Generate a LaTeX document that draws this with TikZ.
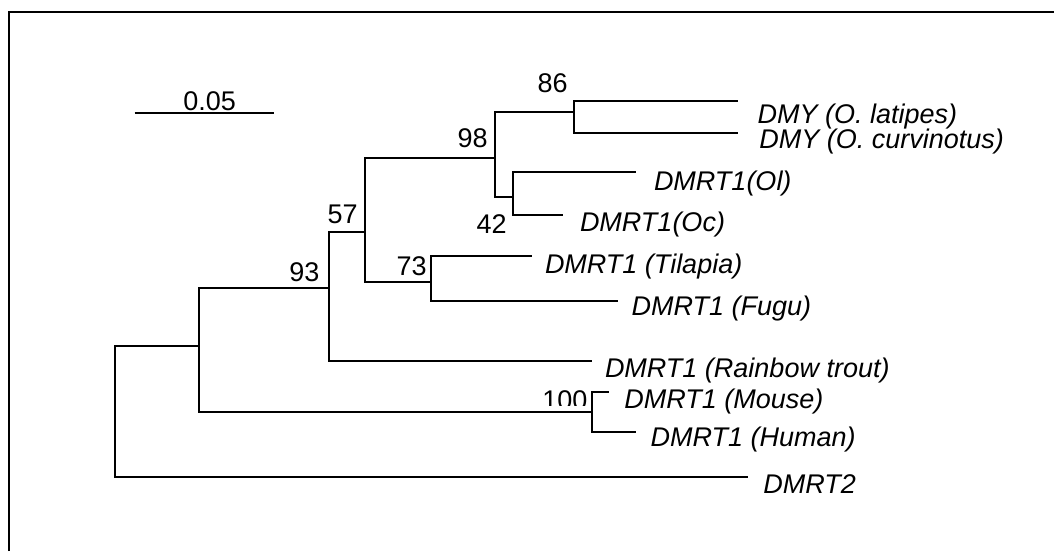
\documentclass[tikz,border=0pt]{standalone}
\usepackage{fontspec}
\setmainfont{Liberation Sans}
\begin{document}
\begin{tikzpicture}[x=0.75pt,y=-0.75pt,
  every node/.style={inner sep=0pt, outer sep=0pt, anchor=base west, font=\fontsize{20.25}{24}\selectfont},
  taxon/.style={font=\fontsize{20.25}{24}\selectfont\itshape},
  support/.style={},
  branch/.style={line width=1.5pt, line join=miter},
  frame/.style={line width=1.6pt}]
\useasboundingbox (0,0) rectangle (1054,551);
% frame (only top and left edges visible)
\coordinate (fb) at (9,551);
\coordinate (fc) at (9,12);
\coordinate (fr) at (1054,12);
\draw[frame] (fb) -- (fc) -- (fr);
% scale bar
\coordinate (sb1) at (134.7,112.7);
\coordinate (sb2) at (273.7,112.7);
\draw[branch] (sb1) -- (sb2);
\node (sbl) at (183.3,110) {0.05};
% internal nodes
\coordinate (R) at (115,411.5);
\coordinate (A) at (199,345.7);
\coordinate (B) at (329,287.7);
\coordinate (C) at (365,231.7);
\coordinate (D) at (495,157.7);
\coordinate (E) at (574,111.7);
\coordinate (F) at (513.3,197.3);
\coordinate (T) at (431,281.7);
\coordinate (M) at (591.7,411.7);
% tips
\coordinate (t1) at (737.7,100.7);
\coordinate (t2) at (737.7,132.7);
\coordinate (t3) at (636,172.3);
\coordinate (t4) at (562.7,215);
\coordinate (t5) at (531.7,255.7);
\coordinate (t6) at (618.3,301);
\coordinate (t7) at (592.3,361);
\coordinate (t8) at (609,391.7);
\coordinate (t9) at (636,431.7);
\coordinate (t10) at (748.3,477.3);
% branches
\draw[branch] (R) |- (A);
\draw[branch] (R) |- (t10);
\draw[branch] (A) |- (B);
\draw[branch] (A) |- (M);
\draw[branch] (B) |- (C);
\draw[branch] (B) |- (t7);
\draw[branch] (C) |- (D);
\draw[branch] (C) |- (T);
\draw[branch] (D) |- (E);
\draw[branch] (D) |- (F);
\draw[branch] (E) |- (t1);
\draw[branch] (E) |- (t2);
\draw[branch] (F) |- (t3);
\draw[branch] (F) |- (t4);
\draw[branch] (T) |- (t5);
\draw[branch] (T) |- (t6);
\draw[branch] (M) |- (t8);
\draw[branch] (M) |- (t9);
% support values
\node[support] (s86) at (537.7,92.3) {86};
\node[support] (s98) at (457.7,147.7) {98};
\node[support] (s42) at (476.7,233.3) {42};
\node[support] (s57) at (327.7,223.3) {57};
\node[support] (s73) at (396.7,275) {73};
\node[support] (s93) at (289.3,281.7) {93};
\begin{scope}
\clip (530,380) rectangle (590,405.5);
\node[support] (s100) at (542.3,409.3) {100};
\end{scope}
% taxa
\node[taxon] (l1) at (757.7,123.3) {DMY (O. latipes)};
\node[taxon] (l2) at (759.3,148.3) {DMY (O. curvinotus)};
\node[taxon] (l3) at (654,190) {DMRT1(Ol)};
\node[taxon] (l4) at (580,231.7) {DMRT1(Oc)};
\node[taxon] (l5) at (545,273.3) {DMRT1 (Tilapia)};
\node[taxon] (l6) at (631.7,315) {DMRT1 (Fugu)};
\node[taxon] (l7) at (605,377.3) {DMRT1 (Rainbow trout)};
\node[taxon] (l8) at (624.3,408.3) {DMRT1 (Mouse)};
\node[taxon] (l9) at (650.7,446.7) {DMRT1 (Human)};
\node[taxon] (l10) at (763.3,493.3) {DMRT2};
\end{tikzpicture}
\end{document}
